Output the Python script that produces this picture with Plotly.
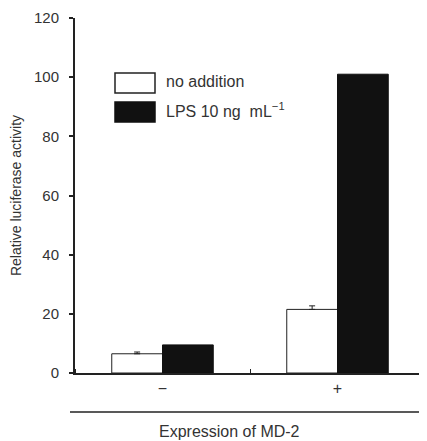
import plotly.graph_objects as go

categories = ["\u2212", "+"]
no_addition = [6.5, 21.5]
no_addition_err = [0.6, 1.2]
lps = [9.5, 101]
y_ticks = [0, 20, 40, 60, 80, 100, 120]

x_pos = list(range(len(categories)))

fig = go.Figure()
fig.add_trace(go.Bar(
    x=x_pos, y=no_addition, name="no addition",
    marker=dict(color="white", line=dict(color="#222", width=1)),
    error_y=dict(type="data", array=no_addition_err, arrayminus=[0, 0], color="#222", thickness=1, width=3),
))
fig.add_trace(go.Bar(
    x=x_pos, y=lps, name="LPS 10 ng mL\u207b\u00b9",
    marker=dict(color="#111", line=dict(color="#111", width=1)),
))

font = dict(family="Liberation Sans, Arial, sans-serif", size=16, color="#333")

# page body has an 8px margin, so the figure is sized to the visible area
fig.update_layout(
    width=419, height=433,
    margin=dict(l=67, r=2, t=10, b=68),
    paper_bgcolor="white", plot_bgcolor="white",
    barmode="group", bargap=0.42, bargroupgap=0,
    showlegend=False,
    font=font,
)
fig.update_xaxes(
    range=[-0.5, 1.5], tickvals=x_pos, ticktext=categories,
    showline=True, linecolor="#222", linewidth=2,
    showgrid=False, zeroline=False, ticks="",
    tickfont=dict(size=16, color="#333"),
    minor=dict(tick0=0.5, dtick=1, ticks="inside", ticklen=4, tickcolor="#222", showgrid=False),
)
fig.update_yaxes(
    range=[0, 120], tickvals=y_ticks,
    showline=True, linecolor="#222", linewidth=2,
    showgrid=False, zeroline=False,
    ticks="outside", ticklen=4, tickcolor="#222", tickwidth=1.5,
    ticklabelstandoff=7,
    tickfont=dict(size=15, color="#333"),
    title=dict(text="Relative luciferase activity", font=dict(size=14, color="#333"), standoff=10),
)

# legend drawn manually
fig.add_shape(type="rect", xref="paper", yref="paper", x0=40/350, x1=80/350,
              y0=1-(93-18)/355, y1=1-(73-18)/355, line=dict(color="#222", width=1.5), fillcolor="white")
fig.add_shape(type="rect", xref="paper", yref="paper", x0=40/350, x1=80/350,
              y0=1-(122-18)/355, y1=1-(102-18)/355, line=dict(color="#111", width=1.5), fillcolor="#111")
fig.add_annotation(xref="paper", yref="paper", x=89/350, y=1-(81-18)/355, text="no addition",
                   showarrow=False, xanchor="left", yanchor="middle", font=font)
fig.add_annotation(xref="paper", yref="paper", x=89/350, y=1-(110-18)/355,
                   text="LPS 10 ng  mL<sup>\u22121</sup>",
                   showarrow=False, xanchor="left", yanchor="middle", font=font)

# lower line and label
fig.add_shape(type="line", xref="paper", yref="paper", x0=-5/350, x1=352/350,
              y0=-(412-373)/355, y1=-(412-373)/355, line=dict(color="#222", width=1.5))
fig.add_annotation(xref="paper", yref="paper", x=(229-75)/350, y=-(431-373)/355,
                   text="Expression of MD-2", showarrow=False, xanchor="center", yanchor="middle",
                   font=font)

fig.write_html("out.html")
